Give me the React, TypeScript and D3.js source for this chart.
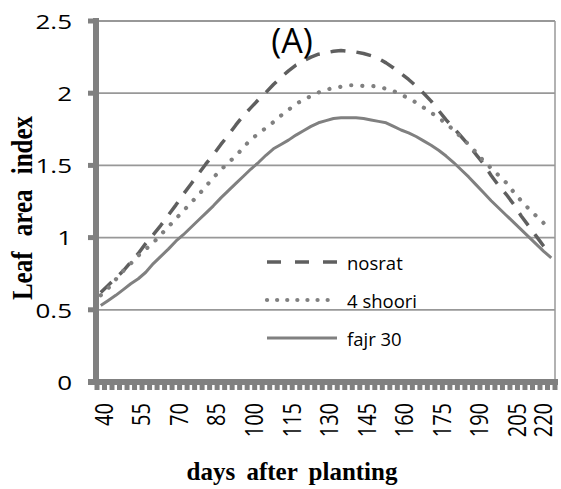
import React from 'react';
import * as d3 from 'd3';

// days after planting (category axis, 3-day step)
const days = [
  40, 43, 46, 49, 52, 55, 58, 61, 64, 67,
  70, 73, 76, 79, 82, 85, 88, 91, 94, 97,
  100, 103, 106, 109, 112, 115, 118, 121, 124, 127,
  130, 133, 136, 139, 142, 145, 148, 151, 154, 157,
  160, 163, 166, 169, 172, 175, 178, 181, 184, 187,
  190, 193, 196, 199, 202, 205, 208, 211, 214, 217,
  220,
];

const nosrat = [
  0.62, 0.67, 0.72, 0.77, 0.83, 0.89, 0.96, 1.02, 1.085, 1.155,
  1.225, 1.3, 1.37, 1.44, 1.51, 1.575, 1.645, 1.71, 1.78, 1.845,
  1.9, 1.955, 2.005, 2.06, 2.11, 2.155, 2.195, 2.225, 2.25, 2.27,
  2.28, 2.29, 2.295, 2.29, 2.285, 2.275, 2.26, 2.24, 2.21, 2.175,
  2.135, 2.095, 2.05, 2.0, 1.945, 1.88, 1.815, 1.76, 1.7, 1.64,
  1.575, 1.51, 1.43, 1.36, 1.3, 1.23, 1.15, 1.08, 1.01, 0.94,
  0.89,
];

const shoori = [
  0.6, 0.65, 0.71, 0.77, 0.82, 0.875, 0.92, 0.965, 1.02, 1.075,
  1.13, 1.185, 1.24, 1.295, 1.355, 1.415, 1.47, 1.52, 1.565, 1.625,
  1.68, 1.72, 1.76, 1.8, 1.845, 1.885, 1.925, 1.955, 1.98, 2.005,
  2.025, 2.035, 2.045, 2.055, 2.055, 2.05, 2.05, 2.045, 2.03, 2.015,
  1.99, 1.965, 1.935, 1.9, 1.865, 1.83, 1.79, 1.745, 1.695, 1.645,
  1.59, 1.53, 1.48, 1.43, 1.38, 1.315, 1.255, 1.2, 1.15, 1.1,
  1.05,
];

const fajr = [
  0.53, 0.565, 0.6, 0.64, 0.68, 0.715, 0.76, 0.82, 0.87, 0.92,
  0.975, 1.02, 1.07, 1.12, 1.17, 1.22, 1.275, 1.325, 1.375, 1.425,
  1.475, 1.52, 1.57, 1.615, 1.645, 1.675, 1.71, 1.74, 1.77, 1.795,
  1.81, 1.825, 1.83, 1.83, 1.83, 1.825, 1.815, 1.805, 1.795, 1.77,
  1.745, 1.725, 1.7, 1.67, 1.64, 1.605, 1.565, 1.52, 1.47, 1.42,
  1.365, 1.31, 1.255, 1.205, 1.155, 1.105, 1.055, 1.005, 0.955, 0.905,
  0.86,
];

const xTickLabels = ['40', '55', '70', '85', '100', '115', '130', '145', '160', '175', '190', '205', '220'];
const yTicks = [0, 0.5, 1, 1.5, 2, 2.5];

const series = [
  { name: 'nosrat', values: nosrat, color: '#5f5f5f', width: 3.5, dash: '15 11', cap: 'butt' },
  { name: '4 shoori', values: shoori, color: '#808080', width: 4.2, dash: '0.1 11', cap: 'round' },
  { name: 'fajr 30', values: fajr, color: '#808080', width: 3, dash: null, cap: 'butt' },
];

const W = 561;
const H = 489;
const plot = { left: 97, right: 555, top: 21, bottom: 382 };
const sx = 1.3; // horizontal stretch of the original picture's text
const sans = "'Open Sans', 'Noto Sans', sans-serif";
const serif = "'Liberation Serif', 'DejaVu Serif', serif";
const axisGray = '#808080';
const gridGray = '#989898';

export default function App() {
  const x = d3.scaleBand<number>().domain(days).range([plot.left, plot.right]).padding(0);
  const y = d3.scaleLinear().domain([0, 2.5]).range([plot.bottom, plot.top]);
  const cx = (d: number) => (x(d) as number) + x.bandwidth() / 2;

  const line = d3.line<number>()
    .x((_, i) => cx(days[i]))
    .y(v => y(v));

  // category boundaries for the tick marks under the x axis
  const boundaries = days.map(d => x(d) as number).concat([plot.right]);

  const legendY = [262, 300, 338];

  return (
    <svg width={W} height={H} style={{ position: 'absolute', left: 0, top: 0, background: '#fff' }}>
      {/* gridlines */}
      {yTicks.filter(t => t > 0).map(t => (
        <line key={t} x1={plot.left} x2={plot.right} y1={y(t)} y2={y(t)} stroke={gridGray} strokeWidth={1.8} />
      ))}
      <line x1={plot.right} x2={plot.right} y1={plot.top} y2={plot.bottom} stroke={gridGray} strokeWidth={1.5} />

      {/* series */}
      {series.map(s => (
        <path key={s.name} d={line(s.values) || ''} fill="none" stroke={s.color} strokeWidth={s.width}
          strokeDasharray={s.dash || undefined} strokeLinecap={s.cap as any} strokeLinejoin="round" />
      ))}

      {/* y axis */}
      <line x1={96} x2={96} y1={18} y2={385} stroke={axisGray} strokeWidth={6} />
      {yTicks.map(t => (
        <line key={t} x1={88} x2={94} y1={y(t)} y2={y(t)} stroke={axisGray} strokeWidth={5} />
      ))}
      {yTicks.map(t => (
        <text key={t} transform={`translate(72,${y(t)}) scale(${sx},1)`} textAnchor="end"
          dominantBaseline="central" fontFamily={sans} fontSize={20} fill="#000">{t}</text>
      ))}

      {/* x axis */}
      <line x1={88} x2={558} y1={382} y2={382} stroke={axisGray} strokeWidth={6} />
      {boundaries.map((b, i) => (
        <line key={i} x1={b} x2={b} y1={384} y2={390} stroke={axisGray} strokeWidth={5} />
      ))}
      {xTickLabels.map(l => (
        <text key={l} transform={`translate(${Math.min(cx(+l) + 2, 542)},403) scale(${sx},1) rotate(-90)`}
          textAnchor="end" dominantBaseline="central" fontFamily={sans} fontSize={20} fill="#000">{l}</text>
      ))}

      {/* titles */}
      <text x={292} y={53} textAnchor="middle" fontFamily={sans} fontSize={34} fill="#000">(A)</text>
      <text x={292} y={480} textAnchor="middle" fontFamily={serif} fontWeight="bold" fontSize={25}
        wordSpacing={5} fill="#000">days after planting</text>
      <text transform={`translate(32,208) scale(1.2,1) rotate(-90)`} textAnchor="middle" fontFamily={serif}
        fontWeight="bold" fontSize={25} wordSpacing={9} fill="#000">Leaf area index</text>

      {/* legend */}
      {series.map((s, i) => (
        <g key={s.name}>
          <line x1={267} x2={337} y1={legendY[i]} y2={legendY[i]} stroke={s.color} strokeWidth={s.width}
            strokeDasharray={s.dash ? (s.cap === 'round' ? '0.1 10' : '14 14') : undefined}
            strokeLinecap={s.cap as any} />
          <text x={347} y={legendY[i]} dominantBaseline="central" fontFamily={sans} fontSize={18.5}
            fill="#000">{s.name}</text>
        </g>
      ))}
    </svg>
  );
}
